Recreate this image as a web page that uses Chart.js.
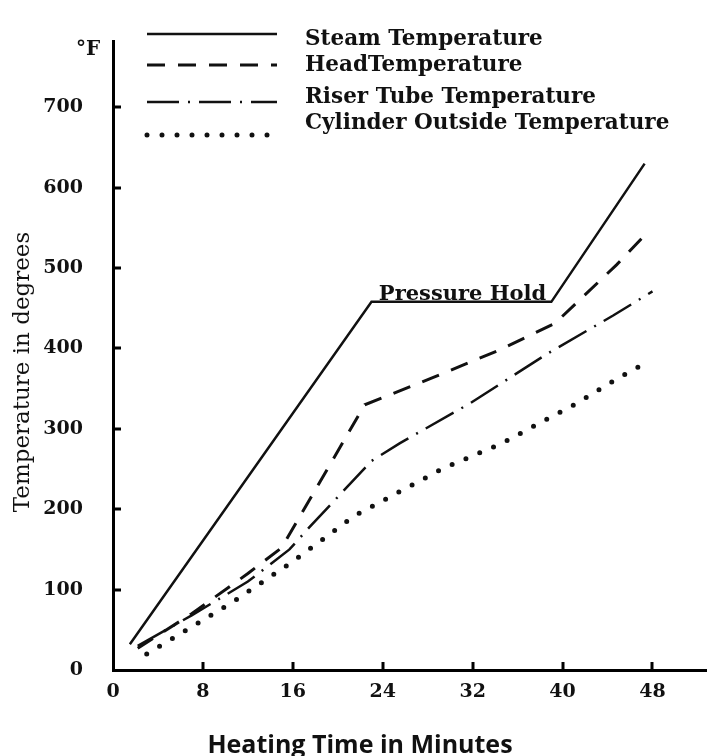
<!DOCTYPE html>
<html lang="en">
<head>
<meta charset="UTF-8">
<title>Heating Time vs Temperature</title>
<script src="https://cdn.jsdelivr.net/npm/chart.js@4.4.1/dist/chart.umd.min.js"></script>
<style>
    html, body { margin: 0; padding: 0; background: #fff; }
    #wrap { position: relative; width: 707px; height: 756px; }
</style>
</head>
<body>
<div id="wrap"><canvas id="heatChart"></canvas></div>
<script>
// Axis ticks
const X_TICKS = [0, 8, 16, 24, 32, 40, 48];
const Y_TICKS = [0, 100, 200, 300, 400, 500, 600, 700];

// Steam temperature (minutes / °F)
const steamTime = [1.5, 23, 39, 47.3];
const steamTemp = [32, 458, 458, 630];

// Head temperature
const headTime = [2.2, 7, 12, 15, 22.4, 28.5, 34.2, 39.3, 44.8, 47.8];
const headTemp = [27, 70, 120, 152, 330, 364, 397, 431, 504, 548];

// Riser tube temperature
const riserTime = [2.2, 7, 12, 15.7, 17.5, 23, 25.5, 31.8, 38.7, 44.5, 48];
const riserTemp = [30, 68, 110, 150, 178, 260, 282, 332, 394, 441, 471];

// Cylinder outside temperature
const cylTime = [3, 10.7, 16, 21.5, 29.4, 34.6, 38.6, 41.3, 44.8, 47.5];
const cylTemp = [20, 85, 135, 192, 251, 282, 312, 332, 362, 383];

// Text
const X_TITLE = 'Heating Time in Minutes';
const Y_TITLE = 'Temperature in degrees';
const UNIT_LABEL = '°F';
const HOLD_LABEL = 'Pressure Hold';
const HOLD_AT = { x: 31.1, y: 458 };

const SERIF = '"DejaVu Serif", "Liberation Serif", serif';

/**
 * Zip two arrays into {x, y} points
 */
function toPoints(xs, ys) {
    return xs.map((x, i) => ({ x: x, y: ys[i] }));
}

/**
 * Inward tick marks, in-plot legend and free text
 */
const decorations = {
    id: 'decorations',
    afterDraw(chart) {
        const ctx = chart.ctx;
        const xs = chart.scales.x;
        const ys = chart.scales.y;
        const area = chart.chartArea;

        ctx.save();
        ctx.strokeStyle = '#000';
        ctx.lineWidth = 3;
        ctx.setLineDash([]);

        // tick marks pointing into the plot
        X_TICKS.filter(v => v > 0).forEach(v => {
            const px = Math.round(xs.getPixelForValue(v));
            ctx.beginPath();
            ctx.moveTo(px, area.bottom);
            ctx.lineTo(px, area.bottom - 8);
            ctx.stroke();
        });
        Y_TICKS.filter(v => v > 0).forEach(v => {
            const py = Math.round(ys.getPixelForValue(v));
            ctx.beginPath();
            ctx.moveTo(area.left, py);
            ctx.lineTo(area.left + 8, py);
            ctx.stroke();
        });

        // legend rows
        const lineY = [34, 65, 102, 135];
        const textY = [45, 71, 103, 129];
        ctx.font = 'bold 21.5px ' + SERIF;
        ctx.fillStyle = '#111';
        ctx.textAlign = 'left';
        ctx.textBaseline = 'alphabetic';
        chart.data.datasets.forEach((ds, i) => {
            ctx.save();
            ctx.strokeStyle = ds.borderColor;
            ctx.lineWidth = ds.borderWidth;
            ctx.lineCap = ds.borderCapStyle || 'butt';
            ctx.setLineDash(ds.borderDash || []);
            ctx.beginPath();
            ctx.moveTo(147, lineY[i]);
            ctx.lineTo(277, lineY[i]);
            ctx.stroke();
            ctx.restore();
            ctx.fillText(ds.label, 305, textY[i]);
        });

        // unit
        ctx.font = 'bold 20px ' + SERIF;
        ctx.fillText(UNIT_LABEL, 76, 55);

        // pressure hold note over the plateau
        ctx.font = 'bold 21px ' + SERIF;
        ctx.textAlign = 'center';
        ctx.fillText(HOLD_LABEL, xs.getPixelForValue(HOLD_AT.x), ys.getPixelForValue(HOLD_AT.y) - 2);

        // axis titles
        ctx.font = 'bold 25px "Open Sans", "Noto Sans", sans-serif';
        ctx.fillText(X_TITLE, 360, 753);

        ctx.translate(23, 372);
        ctx.rotate(-Math.PI / 2);
        ctx.font = '23px ' + SERIF;
        ctx.textBaseline = 'middle';
        ctx.fillText(Y_TITLE, 0, 0);

        ctx.restore();
    }
};

function createHeatChart() {
    const ctx = document.getElementById('heatChart');

    return new Chart(ctx, {
        type: 'line',
        data: {
            datasets: [{
                label: 'Steam Temperature',
                data: toPoints(steamTime, steamTemp),
                borderColor: '#111',
                borderWidth: 2.5
            }, {
                label: 'HeadTemperature',
                data: toPoints(headTime, headTemp),
                borderColor: '#111',
                borderWidth: 3,
                borderDash: [18, 13]
            }, {
                label: 'Riser Tube Temperature',
                data: toPoints(riserTime, riserTemp),
                borderColor: '#111',
                borderWidth: 2.5,
                borderDash: [32, 9, 2, 9]
            }, {
                label: 'Cylinder Outside Temperature',
                data: toPoints(cylTime, cylTemp),
                borderColor: '#111',
                borderWidth: 5,
                borderCapStyle: 'round',
                borderDash: [0, 15]
            }]
        },
        options: {
            responsive: true,
            maintainAspectRatio: false,
            animation: false,
            layout: {
                padding: { top: 11, right: 0, bottom: 0, left: 0 }
            },
            elements: {
                point: { radius: 0 },
                line: { tension: 0, fill: false }
            },
            plugins: {
                legend: { display: false },
                tooltip: { enabled: false }
            },
            scales: {
                x: {
                    type: 'linear',
                    min: 0,
                    max: 52.85,
                    afterBuildTicks: scale => {
                        scale.ticks = X_TICKS.map(v => ({ value: v }));
                    },
                    afterFit: scale => {
                        scale.height = 86;
                    },
                    grid: { display: false, drawTicks: false },
                    border: { display: true, color: '#000', width: 3 },
                    ticks: {
                        padding: 11,
                        color: '#111',
                        maxRotation: 0,
                        font: { family: SERIF, size: 19, weight: 'bold' }
                    }
                },
                y: {
                    type: 'linear',
                    min: 0,
                    max: 782,
                    afterBuildTicks: scale => {
                        scale.ticks = Y_TICKS.map(v => ({ value: v }));
                    },
                    afterFit: scale => {
                        scale.width = 113;
                    },
                    grid: { display: false, drawTicks: false },
                    border: { display: true, color: '#000', width: 3 },
                    ticks: {
                        padding: 30,
                        color: '#111',
                        font: { family: SERIF, size: 19, weight: 'bold' }
                    }
                }
            }
        },
        plugins: [decorations]
    });
}

createHeatChart();
</script>
</body>
</html>
